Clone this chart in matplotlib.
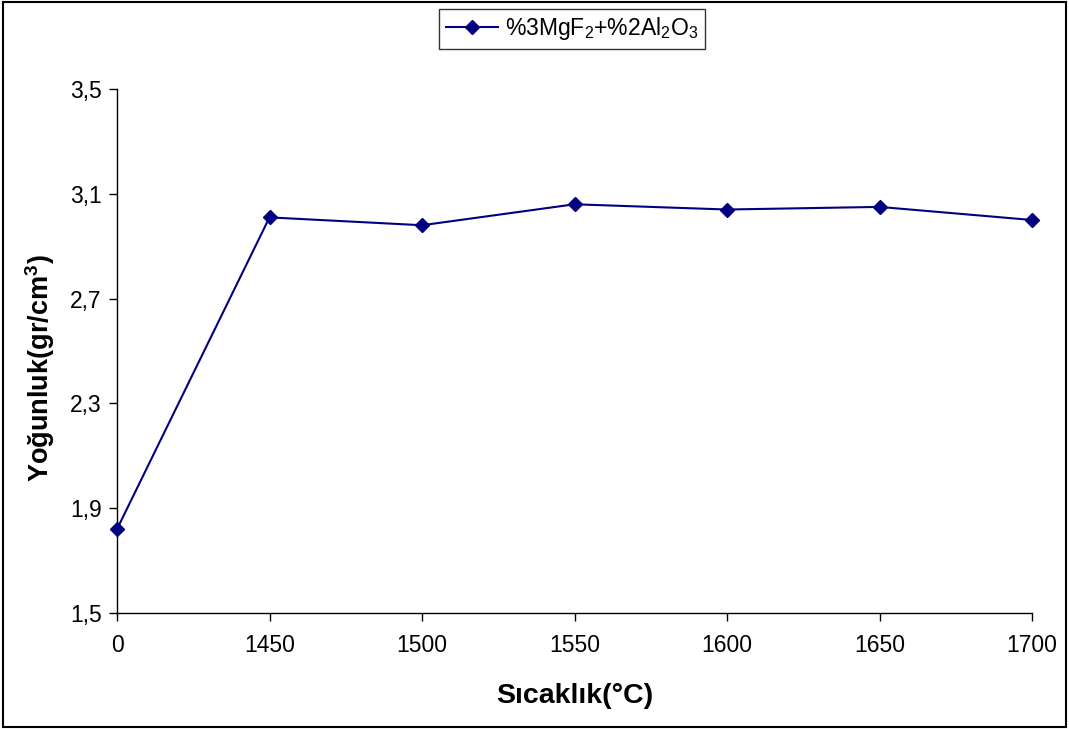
import matplotlib
matplotlib.use("Agg")
import matplotlib.pyplot as plt
from matplotlib.patches import Rectangle

plt.rcParams['font.family'] = ['Liberation Sans', 'DejaVu Sans']
plt.rcParams['mathtext.fontset'] = 'custom'
plt.rcParams['mathtext.rm'] = 'Liberation Sans'
plt.rcParams['mathtext.it'] = 'Liberation Sans'
plt.rcParams['mathtext.bf'] = 'Liberation Sans:bold'

categories = ['0', '1450', '1500', '1550', '1600', '1650', '1700']
density = [1.82, 3.01, 2.98, 3.06, 3.04, 3.05, 3.00]
yticks = [1.5, 1.9, 2.3, 2.7, 3.1, 3.5]
ytick_labels = ['1,5', '1,9', '2,3', '2,7', '3,1', '3,5']
series_label = r'%3MgF$_2$+%2Al$_2$O$_3$'

fig = plt.figure(figsize=(10.69, 7.29), dpi=100)
ax = fig.add_axes([117/1069, 1-613/729, (1032-117)/1069, (613-89)/729])

x = list(range(len(categories)))
ax.plot(x, density, color='#000080', lw=1.5, marker='D', ms=7,
        markerfacecolor='#000080', markeredgecolor='#000080', label=series_label,
        clip_on=False, zorder=5)

ax.set_xlim(0, len(categories) - 1)
ax.set_ylim(1.5, 3.5)
ax.set_xticks(x)
ax.set_xticklabels(categories)
ax.set_yticks(yticks)
ax.set_yticklabels(ytick_labels)
ax.tick_params(axis='both', labelsize=16.5, length=6, width=1, direction='out')
ax.tick_params(axis='y', pad=5)
ax.tick_params(axis='x', pad=9)
ax.spines['top'].set_visible(False)
ax.spines['right'].set_visible(False)
ax.spines['left'].set_linewidth(1)
ax.spines['bottom'].set_linewidth(1)

ax.set_xlabel('Sıcaklık(°C)', fontsize=20.5, fontweight='bold')
ax.set_ylabel(r'Yoğunluk(gr/cm$^\mathbf{3}$)', fontsize=19.5, fontweight='bold')
ax.xaxis.set_label_coords(0.5, -(683-613)/524, transform=ax.transAxes)
ax.yaxis.set_label_coords(-(117-57)/915, (613-368)/524, transform=ax.transAxes)

leg = fig.legend(loc='center', bbox_to_anchor=(572/1069, 1-29/729), fontsize=16.5,
                 frameon=True, fancybox=False, edgecolor='black', handlelength=2.3,
                 handletextpad=0.3, borderpad=0.3)
leg.get_frame().set_linewidth(1)

fig.patches.append(Rectangle((0.003, 0.003), 0.994, 0.994, transform=fig.transFigure,
                             fill=False, edgecolor='black', lw=1.5))

fig.savefig('out.png', dpi=100)
